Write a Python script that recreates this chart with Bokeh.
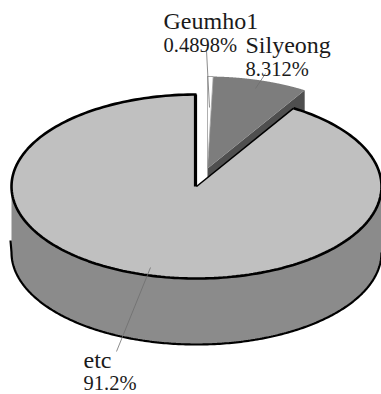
import numpy as np
from bokeh.plotting import figure
from bokeh.embed import file_html
from bokeh.resources import INLINE
from bokeh.core.properties import value

# Share of each category, in percent, clockwise from twelve o'clock
names = ["Geumho1", "Silyeong", "etc"]
shares = [0.4898, 8.312, 91.2]
share_labels = ["0.4898%", "8.312%", "91.2%"]
colors = ["#ffffff", "#7d7d7d", "#c0c0c0"]

# Disc geometry in page pixels
CX, CY = 196, 186
RX, RY = 185, 92
DEPTH = 66
LIFT = (11, -18)  # the two small slices are pulled out of the disc

W, H = 381, 394
p = figure(width=W, height=H, x_range=(0, W), y_range=(H, 0), output_backend="svg",
           toolbar_location=None, min_border=0, outline_line_color=None)
p.axis.visible = False
p.grid.visible = False

edges = np.cumsum([0] + shares) / sum(shares) * 2 * np.pi


def arc(a0, a1, cx=CX, cy=CY, n=240):
    t = np.linspace(a0, a1, n)
    return cx + RX * np.sin(t), cy - RY * np.cos(t)


def wedge(a0, a1, cx, cy):
    x, y = arc(a0, a1, cx, cy)
    return np.r_[cx, x], np.r_[cy, y]


sx, sy = CX + LIFT[0], CY + LIFT[1]

# Cut face of the pulled-out Silyeong slice
cx1 = sx + RX * np.sin(edges[2])
cy1 = sy - RY * np.cos(edges[2])
p.patch([sx, cx1, cx1, sx], [sy, cy1, cy1 + DEPTH, sy + DEPTH], fill_color="#4f4f4f", line_color=None)

# Top faces of the two small slices
x, y = wedge(edges[1], edges[2], sx, sy)
p.patch(x, y, fill_color=colors[1], line_color=None)
x, y = wedge(edges[0], edges[1], sx, sy)
p.patch(x, y, fill_color=colors[0], line_color="#9a9a9a", line_width=0.8)

# Outer wall of the large slice
ux, uy = arc(np.pi / 2, 3 * np.pi / 2)
lx, ly = arc(3 * np.pi / 2, np.pi / 2, cy=CY + DEPTH)
p.patch(np.r_[ux, lx], np.r_[uy, ly], fill_color="#8b8b8b", line_color=None)

# Top face of the large slice
x, y = wedge(edges[2], edges[3], CX, CY)
p.patch(x, y, fill_color=colors[2], line_color=None)

# Heavy outlines
x, y = arc(edges[2], edges[3])
p.line(x, y, line_color="black", line_width=2.6)
p.line([CX - 1, CX - 1], [CY - RY, CY], line_color="black", line_width=3.2)
p.line([CX, CX + RX * np.sin(edges[2])], [CY, CY - RY * np.cos(edges[2])], line_color="black", line_width=1.6)
lx, ly = arc(3 * np.pi / 2, np.pi / 2, cy=CY + DEPTH)
p.line(np.r_[CX - RX - 1, lx], np.r_[CY + DEPTH - 12, ly], line_color="black", line_width=2.2)

# Leader lines
leader_x = [[206, 209], [265, 255], [150, 116]]
leader_y = [[50, 107], [73, 88], [267, 351]]
p.multi_line(leader_x, leader_y, line_color="#6e6e6e", line_width=0.8)

# Category names and their shares
p.text([163, 245, 83], [20, 44, 359], text=names, text_font=value("Liberation Serif"),
       text_font_size="24px", text_color="#1a1a1a", text_baseline="middle")
p.text([163, 245, 83], [44, 68, 382], text=share_labels, text_font=value("Liberation Serif"),
       text_font_size="20.5px", text_color="#1a1a1a", text_baseline="middle")

open("out.html", "w").write(file_html(p, INLINE))
